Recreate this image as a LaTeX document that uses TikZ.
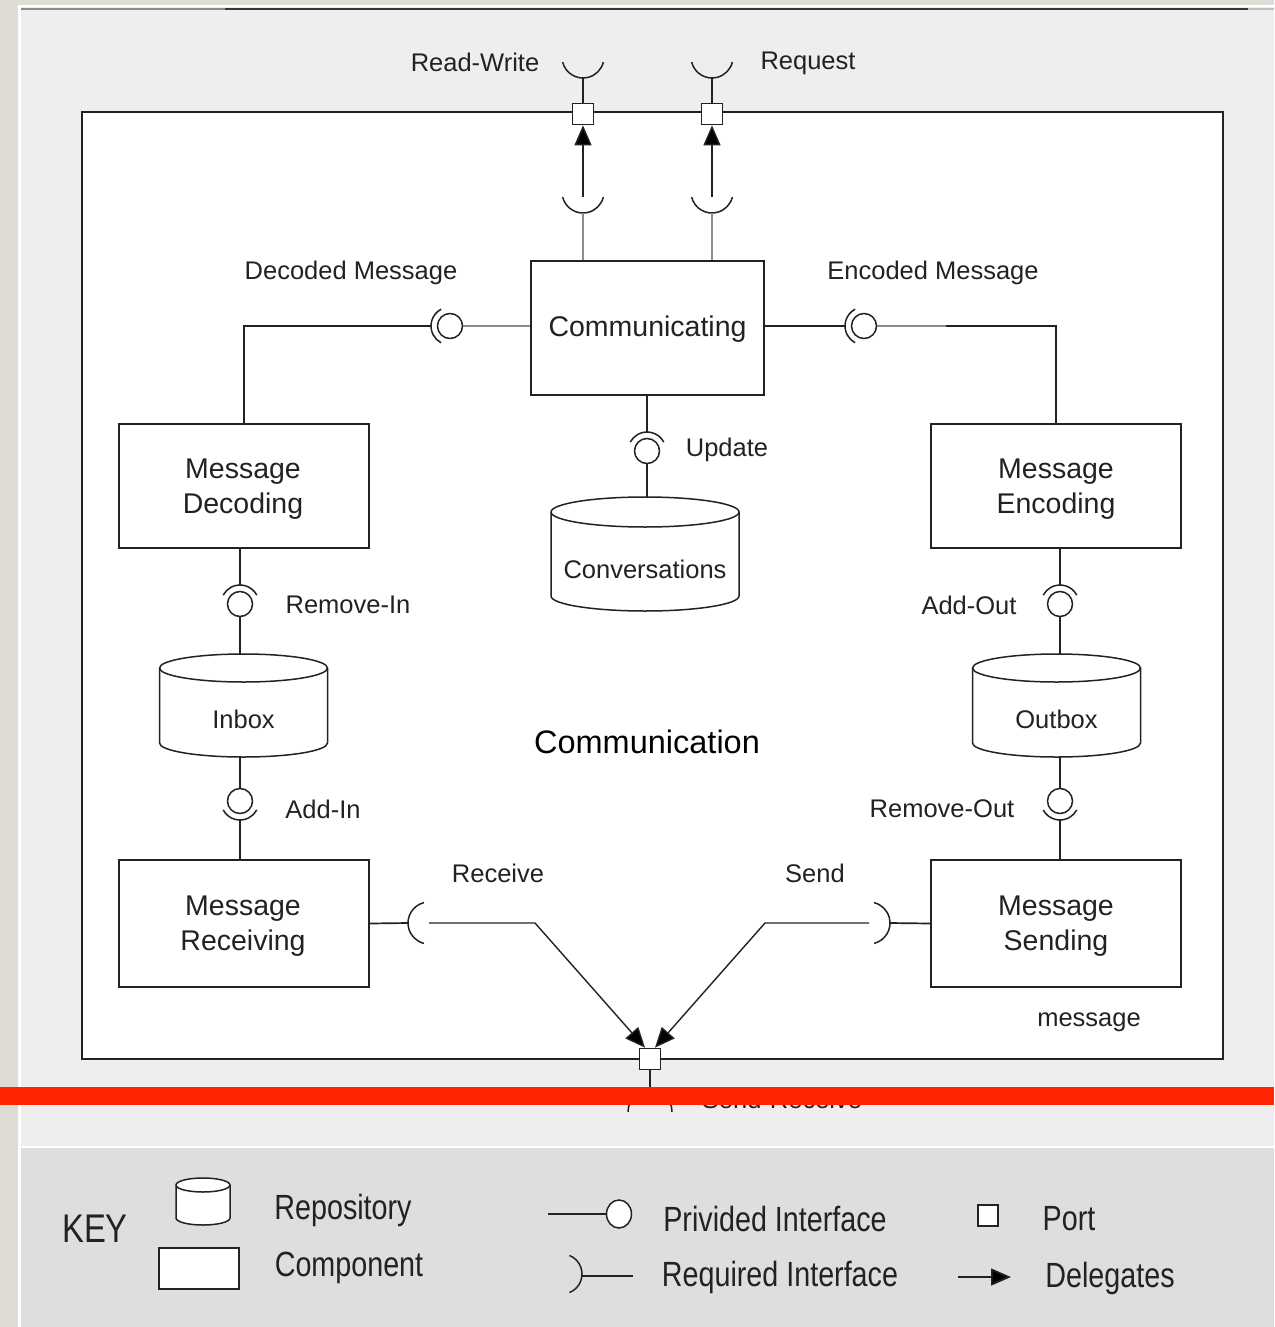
\documentclass[tikz,border=0pt]{standalone}
\usepackage{fontspec}
\usepackage{graphicx}
\setmainfont{Liberation Sans}
\usetikzlibrary{arrows.meta,calc,shapes.geometric}

\definecolor{strip}{HTML}{DEDCD5}
\definecolor{panel}{HTML}{EEEEEE}
\definecolor{keybg}{HTML}{DEDEDE}
\definecolor{ink}{HTML}{222222}
\definecolor{soft}{HTML}{8C8C8C}
\definecolor{redbar}{HTML}{FF2600}

\tikzset{
  wire/.style={draw=ink, line width=1.7pt},
  softwire/.style={draw=soft, line width=1.7pt},
  tipshape/.style={-{Triangle[length=20pt,width=17pt,fill=black]}},
  deleg/.style={draw=ink, line width=1.4pt, tipshape},
  comp/.style={draw=ink, line width=1.7pt, fill=white, align=center, inner sep=0pt,
               font=\fontsize{28.5}{34.5}\selectfont, text=ink},
  comptext/.style={inner sep=0pt, align=center, font=\fontsize{28.5}{34.5}\selectfont, text=ink},
  lbl/.style={inner sep=0pt, font=\fontsize{25.5}{30}\selectfont, text=ink},
  biglbl/.style={inner sep=0pt, font=\fontsize{32.5}{38}\selectfont, text=black},
  ball/.style={circle, draw=ink, line width=1.5pt, fill=white, minimum size=25pt, inner sep=0pt},
  portbox/.style={draw=ink, line width=1.7pt, fill=white, minimum size=21pt, inner sep=0pt},
  sock/.style={draw=ink, line width=1.5pt},
  repo/.style={draw=ink, line width=1.5pt, fill=white},
  repoline/.style={draw=ink, line width=1.5pt},
  keylbl/.style={inner sep=0pt, text=ink},
}

% condensed legend lettering
\newcommand\keyfont[2]{\scalebox{0.82}[1]{\fontsize{#1}{#1}\selectfont #2}}

% repository cylinder: name, cx, top, bottom, half width, ellipse radius, text y, text
\newcommand\repository[8]{%
  \coordinate (#1-top) at (#2,#3);
  \coordinate (#1-bot) at (#2,#4);
  \draw[repo] (#2-#5,#3+#6) -- (#2-#5,#4-#6)
     arc[start angle=180,end angle=360,x radius=#5pt,y radius=#6pt]
     -- (#2+#5,#3+#6)
     arc[start angle=0,end angle=180,x radius=#5pt,y radius=#6pt] -- cycle;
  \draw[repoline] (#2-#5,#3+#6) arc[start angle=180,end angle=360,x radius=#5pt,y radius=#6pt];
  \node[lbl] (#1) at (#2,#7) {#8};
}

\begin{document}
\begin{tikzpicture}[x=1pt,y=-1pt]
\useasboundingbox (0,0) rectangle (1274,1327);

% page backdrop
\fill[strip] (0,0) rectangle (1274,1327);
\fill[white] (18,5) rectangle (1274,1327);
\fill[panel] (20.5,7.5) rectangle (1274,1145.5);
\fill[keybg] (20.5,1148) rectangle (1274,1327);
\draw[line width=2.5pt, soft] (20.5,9) -- (225,9);
\draw[line width=2.5pt, ink!90] (225,9) -- (1248,9);
\draw[line width=2.5pt, black!25] (1248,9) -- (1274,9);

% enclosing component
\node[draw=ink, line width=1.7pt, fill=white, minimum width=1141pt, minimum height=947pt,
      inner sep=0pt] (sys) at (652.5,585.5) {};
\node[biglbl] (title) at (647,742) {Communication};
\node[lbl] (msg) at (1089,1022) {message};

% inner components
\node[comp, minimum width=233pt, minimum height=134pt] (comm) at (647.5,328) {};
\node[comp, minimum width=250pt, minimum height=124pt] (dec)  at (244,486) {};
\node[comp, minimum width=250pt, minimum height=124pt] (enc)  at (1056,486) {};
\node[comp, minimum width=250pt, minimum height=127pt] (recv) at (244,923.5) {};
\node[comp, minimum width=250pt, minimum height=127pt] (send) at (1056,923.5) {};
\node[comptext] (comm-t) at (647.5,329) {Communicating};
\node[comptext] (dec-t)  at (243,489) {Message\\Decoding};
\node[comptext] (enc-t)  at (1056,489) {Message\\Encoding};
\node[comptext] (recv-t) at (243,926) {Message\\Receiving};
\node[comptext] (send-t) at (1056,926) {Message\\Sending};

% repositories
\repository{conv}{645}{497}{611}{94}{15}{569}{Conversations}
\repository{inbox}{243.5}{654}{757}{84}{14}{719}{Inbox}
\repository{outbox}{1056.5}{654}{757}{84}{14}{719}{Outbox}

% ports on the boundary
\node[portbox] (rwport) at (583,114) {};
\node[portbox] (rqport) at (712,114) {};
\node[portbox] (srport) at (650,1059) {};

% Read-Write: outer and inner required interfaces, delegation
\coordinate (rwout) at (583,57);
\draw[sock] (rwout) ++(194:21pt) arc[start angle=194,end angle=346,radius=21pt];
\coordinate (rwoutb) at (583,78);
\draw[wire] (rwport.north) -- (rwoutb);
\coordinate (rwin) at (583,192);
\draw[sock] (rwin) ++(194:21pt) arc[start angle=194,end angle=346,radius=21pt];
\coordinate (rwinb) at (583,213);
\coordinate (rwtail) at (583,197);
\draw[softwire] (rwinb) -- (rwinb |- comm.north);
\draw[deleg] (rwtail) -- (rwport.south);
\node[lbl] (rwlbl) at (475,62) {Read-Write};

% Request: outer and inner required interfaces, delegation
\coordinate (rqout) at (712,57);
\draw[sock] (rqout) ++(194:21pt) arc[start angle=194,end angle=346,radius=21pt];
\coordinate (rqoutb) at (712,78);
\draw[wire] (rqport.north) -- (rqoutb);
\coordinate (rqin) at (712,192);
\draw[sock] (rqin) ++(194:21pt) arc[start angle=194,end angle=346,radius=21pt];
\coordinate (rqinb) at (712,213);
\coordinate (rqtail) at (712,197);
\draw[softwire] (rqinb) -- (rqinb |- comm.north);
\draw[deleg] (rqtail) -- (rqport.south);
\node[lbl] (rqlbl) at (808,63) {Request};

% Decoded Message
\node[ball] (decb) at (450,326) {};
\draw[sock] (decb.center) ++(118:19pt) arc[start angle=118,end angle=242,radius=19pt];
\coordinate (decs) at (431,326);
\draw[softwire] (decb.east -| comm.west) -- (decb.east);
\draw[wire] (decs) -| (dec.north);
\node[lbl] (declbl) at (351,273) {Decoded Message};

% Encoded Message
\node[ball] (encb) at (864,326) {};
\draw[sock] (encb.center) ++(118:19pt) arc[start angle=118,end angle=242,radius=19pt];
\coordinate (encs) at (845,326);
\coordinate (encmid) at (946,326);
\draw[wire] (encs -| comm.east) -- (encs);
\draw[softwire] (encb.east) -- (encmid);
\draw[wire] (encmid) -| (enc.north);
\node[lbl] (enclbl) at (933,273) {Encoded Message};

% Update
\node[ball] (updb) at (647,451) {};
\draw[sock] (updb.center) ++(28:19pt) arc[start angle=28,end angle=152,radius=19pt];
\coordinate (upds) at (647,432);
\draw[wire] (upds |- comm.south) -- (upds);
\draw[wire] (updb.south) -- (updb.south |- conv-top);
\node[lbl] (updlbl) at (727,450) {Update};

% Remove-In
\node[ball] (rinb) at (240,604) {};
\draw[sock] (rinb.center) ++(28:19pt) arc[start angle=28,end angle=152,radius=19pt];
\coordinate (rins) at (240,585);
\draw[wire] (rins |- dec.south) -- (rins);
\draw[wire] (rinb.south) -- (rinb.south |- inbox-top);
\node[lbl] (rinlbl) at (348,605) {Remove-In};

% Add-In
\node[ball] (ainb) at (240,801) {};
\draw[sock] (ainb.center) ++(208:19pt) arc[start angle=208,end angle=332,radius=19pt];
\coordinate (ains) at (240,820);
\draw[wire] (ainb.north |- inbox-bot) -- (ainb.north);
\draw[wire] (ains) -- (ains |- recv.north);
\node[lbl] (ainlbl) at (323,809) {Add-In};

% Add-Out
\node[ball] (aoutb) at (1060,604) {};
\draw[sock] (aoutb.center) ++(28:19pt) arc[start angle=28,end angle=152,radius=19pt];
\coordinate (aouts) at (1060,585);
\draw[wire] (aouts |- enc.south) -- (aouts);
\draw[wire] (aoutb.south) -- (aoutb.south |- outbox-top);
\node[lbl] (aoutlbl) at (969,605) {Add-Out};

% Remove-Out
\node[ball] (routb) at (1060,801) {};
\draw[sock] (routb.center) ++(208:19pt) arc[start angle=208,end angle=332,radius=19pt];
\coordinate (routs) at (1060,820);
\draw[wire] (routb.north |- outbox-bot) -- (routb.north);
\draw[wire] (routs) -- (routs |- send.north);
\node[lbl] (routlbl) at (942,809) {Remove-Out};

% Receive
\coordinate (recvc) at (429,923);
\draw[sock] (recvc) ++(104:21pt) arc[start angle=104,end angle=256,radius=21pt];
\coordinate (recvs) at (408,923);
\coordinate (recvk) at (535,923);
\draw[wire] (recv.east) -- (recvs);
\draw[deleg] (recvc) -- (recvk) -- ([xshift=-5pt]srport.north);
\node[lbl] (recvlbl) at (498,873) {Receive};

% Send
\coordinate (sendc) at (869,923);
\draw[sock] (sendc) ++(-76:21pt) arc[start angle=-76,end angle=76,radius=21pt];
\coordinate (sends) at (890,923);
\coordinate (sendk) at (765,923);
\draw[wire] (send.west) -- (sends);
\draw[deleg] (sendc) -- (sendk) -- ([xshift=5pt]srport.north);
\node[lbl] (sendlbl) at (815,873) {Send};

% Send-Receive outside the boundary
\coordinate (srout) at (650,1112);
\coordinate (srtop) at (650,1090);
\draw[wire] (srport.south) -- (srtop);
\draw[sock] (srout) ++(0:22pt) arc[start angle=0,end angle=180,radius=22pt];
\node[lbl] (srlbl) at (782,1099) {Send-Receive};

% band across the sheet
\fill[redbar] (0,1087) rectangle (1274,1105);

% legend
\node[keylbl] (key) at (95,1229) {\keyfont{40}{KEY}};
\repository{krepo}{203}{1178}{1225}{27}{7}{1205}{}
\node[draw=ink, line width=1.5pt, fill=white, minimum width=80pt, minimum height=41pt,
      inner sep=0pt] (kcomp) at (199,1268.5) {};
\node[keylbl] (krepolbl) at (343,1210) {\keyfont{35}{Repository}};
\node[keylbl] (kcomplbl) at (349,1268) {\keyfont{35}{Component}};

\node[ellipse, draw=ink, line width=1.5pt, fill=white, minimum width=25pt, minimum height=28pt,
      inner sep=0pt] (kball) at (619,1214) {};
\coordinate (kprov) at (548,1214);
\draw[wire] (kprov) -- (kball.west);
\node[keylbl] (kprovlbl) at (775,1219) {\keyfont{35}{Privided Interface}};

\coordinate (kreqc) at (562,1274);
\draw[sock] (kreqc) ++(-68:20pt) arc[start angle=-68,end angle=68,radius=20pt];
\coordinate (kreqa) at (582,1276);
\coordinate (kreqb) at (633,1276);
\draw[wire] (kreqa) -- (kreqb);
\node[keylbl] (kreqlbl) at (780,1277) {\keyfont{35}{Required Interface}};

\node[portbox, minimum width=20pt, minimum height=21pt] (kport) at (988,1215.5) {};
\node[keylbl] (kportlbl) at (1069,1219) {\keyfont{35}{Port}};

\coordinate (kdela) at (958,1277);
\coordinate (kdelb) at (1011,1277);
\draw[wire, tipshape] (kdela) -- (kdelb);
\node[keylbl] (kdellbl) at (1110,1278) {\keyfont{35}{Delegates}};

\end{tikzpicture}
\end{document}
